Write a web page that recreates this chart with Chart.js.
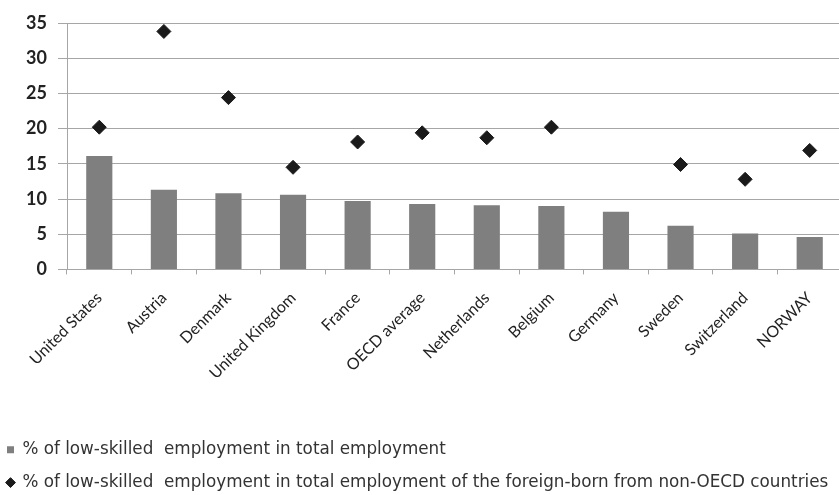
<!DOCTYPE html>
<html>
<head>
<meta charset="utf-8">
<script src="https://cdn.jsdelivr.net/npm/chart.js@4.4.1/dist/chart.umd.min.js"></script>
<style>
  html, body { margin: 0; padding: 0; background: #fff; overflow: hidden; }
  #wrap { width: 859px; height: 501px; margin-left: -9px; }
</style>
</head>
<body>
<div id="wrap"><canvas id="chart"></canvas></div>
<script>
const countries = ['United States', 'Austria', 'Denmark', 'United Kingdom', 'France', 'OECD average',
  'Netherlands', 'Belgium', 'Germany', 'Sweden', 'Switzerland', 'NORWAY'];
const lowSkilledTotal = [16.1, 11.3, 10.8, 10.6, 9.7, 9.3, 9.1, 9.0, 8.2, 6.2, 5.1, 4.6];
const lowSkilledForeignBorn = [20.2, 33.8, 24.4, 14.5, 18.1, 19.4, 18.7, 20.2, null, 14.9, 12.8, 16.9];
const yTicks = [0, 5, 10, 15, 20, 25, 30, 35];

const ctx = document.getElementById('chart').getContext('2d');
const chart = new Chart(ctx, {
    data: {
        labels: countries,
        datasets: [{
            type: 'bar',
            label: '% of low-skilled  employment in total employment',
            data: lowSkilledTotal,
            backgroundColor: '#7f7f7f',
            borderWidth: 0,
            categoryPercentage: 1,
            barPercentage: 0.405,
            pointStyle: 'rect',
            order: 2
        }, {
            type: 'line',
            label: '% of low-skilled  employment in total employment of the foreign-born from non-OECD countries',
            data: lowSkilledForeignBorn,
            showLine: false,
            pointStyle: 'rectRot',
            pointRadius: 7,
            pointBackgroundColor: '#1a1a1a',
            pointBorderColor: '#1a1a1a',
            backgroundColor: '#1a1a1a',
            borderColor: '#1a1a1a',
            order: 1
        }]
    },
    options: {
        responsive: true,
        maintainAspectRatio: false,
        animation: false,
        layout: { padding: { left: 0, right: 3, top: 23, bottom: 0 } },
        scales: {
            x: {
                offset: true,
                grid: { display: true, offset: true, drawOnChartArea: false, color: '#a6a6a6', tickLength: 5 },
                border: { color: '#a6a6a6' },
                ticks: {
                    minRotation: 45, maxRotation: 45, autoSkip: false, padding: 14,
                    color: '#222', font: { family: 'Lato', size: 16 }
                },
                afterFit: (s) => { s.height = 156; }
            },
            y: {
                min: 0, max: 35,
                afterBuildTicks: (s) => { s.ticks = yTicks.map(v => ({ value: v })); },
                grid: { color: '#a6a6a6', tickLength: 9 },
                border: { color: '#a6a6a6' },
                ticks: { padding: 11, color: '#222', font: { family: 'Lato', size: 18, weight: 'bold' } },
                afterFit: (s) => { s.width = 76; }
            }
        },
        plugins: {
            legend: {
                display: true,
                position: 'bottom',
                align: 'start',
                labels: {
                    usePointStyle: true,
                    boxWidth: 7,
                    boxHeight: 7,
                    padding: 16,
                    color: '#333',
                    font: { family: 'DejaVu Sans', size: 16.8 },
                    sort: (a, b) => a.datasetIndex - b.datasetIndex
                }
            },
            tooltip: { enabled: false }
        }
    }
});
</script>
</body>
</html>
